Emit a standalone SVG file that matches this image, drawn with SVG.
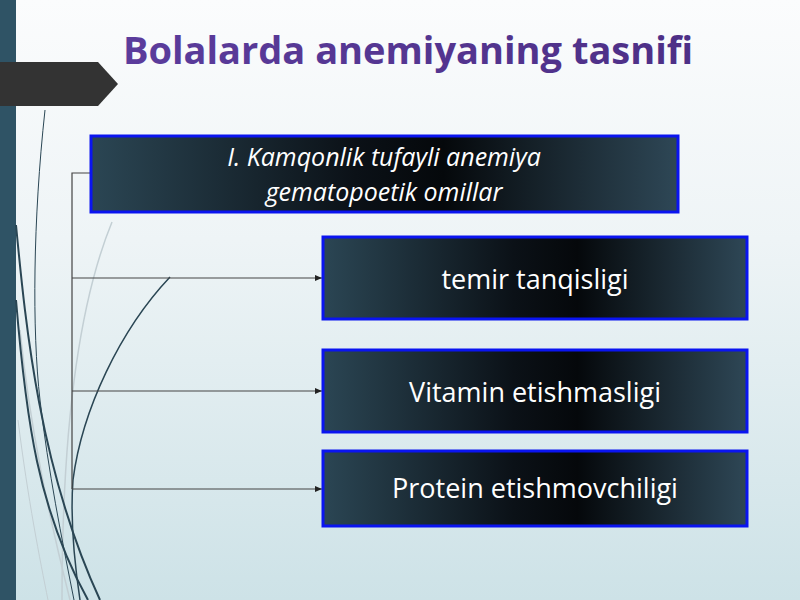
<svg xmlns="http://www.w3.org/2000/svg" width="800" height="600" viewBox="0 0 800 600">
<defs>
<linearGradient id="bg" x1="0" y1="0" x2="0" y2="1">
<stop offset="0" stop-color="#fbfcfd"/>
<stop offset="0.4" stop-color="#eef4f6"/>
<stop offset="1" stop-color="#cde2e7"/>
</linearGradient>
<linearGradient id="boxfill" x1="0" y1="0" x2="1" y2="0">
<stop offset="0" stop-color="#2b4654"/>
<stop offset="0.45" stop-color="#0b1117"/>
<stop offset="0.6" stop-color="#05080b"/>
<stop offset="1" stop-color="#2e4756"/>
</linearGradient>
<linearGradient id="title" x1="0" y1="0" x2="1" y2="0">
<stop offset="0" stop-color="#5b3c9c"/>
<stop offset="1" stop-color="#4d2f86"/>
</linearGradient>
<marker id="arr" markerWidth="8" markerHeight="8" refX="7" refY="4" orient="auto" markerUnits="userSpaceOnUse">
<path d="M0,1 L7,4 L0,7 Z" fill="#222"/>
</marker>
<style>
.box { fill: url(#boxfill); stroke: #0a14f0; stroke-width: 3; }
.lbl { font-family: "Open Sans", "Noto Sans", sans-serif; font-size: 27px; fill: #ffffff; text-anchor: middle; }
.ital { font-size: 25px; font-style: italic; }
.conn { stroke: #444; stroke-width: 1.2; fill: none; }
.deco { fill: none; stroke: #2a4654; }
.decol { fill: none; stroke: #c3cfd4; }
</style>
</defs>
<rect width="800" height="600" fill="url(#bg)"/>
<rect x="0" y="0" width="16" height="600" fill="#2f5365"/>
<g id="decoration">
<path class="decol" stroke-width="1.5" d="M112,222 C 80,300 62,420 62,600"/>
<path class="decol" stroke-width="1.5" d="M20,330 C 30,430 50,520 70,600"/>
<path class="decol" stroke-width="1" d="M18,420 C 28,500 40,560 48,600"/>
<path class="deco" stroke-width="1" d="M45,110 C 33,220 32,330 40,400 C 48,470 62,540 74,600"/>
<path class="deco" stroke-width="2" d="M16,225 C 26,330 40,470 100,600"/>
<path class="deco" stroke-width="2" d="M16,300 C 26,420 38,510 88,600"/>
<path class="deco" stroke-width="1.5" d="M170,277 C 120,330 82,410 73,480 C 70,520 74,560 80,600"/>
</g>
<path d="M0,62 L98,62 L118,84 L98,106 L0,106 Z" fill="#333333"/>
<text x="408" y="64" font-family="'Open Sans', 'Noto Sans', sans-serif" font-size="38" font-weight="bold" fill="url(#title)" text-anchor="middle">Bolalarda anemiyaning tasnifi</text>
<g id="connectors">
<path class="conn" d="M90,173 L72,173 L72,489"/>
<path class="conn" d="M72,278 L322,278" marker-end="url(#arr)"/>
<path class="conn" d="M72,391 L322,391" marker-end="url(#arr)"/>
<path class="conn" d="M72,489 L322,489" marker-end="url(#arr)"/>
</g>
<g id="node1">
<rect class="box" x="91" y="136" width="587" height="76"/>
<text class="lbl ital" x="384" y="166">I. Kamqonlik tufayli anemiya</text>
<text class="lbl ital" x="384" y="201">gematopoetik omillar</text>
</g>
<g id="node2">
<rect class="box" x="323" y="237" width="424" height="82"/>
<text class="lbl" x="535" y="289">temir tanqisligi</text>
</g>
<g id="node3">
<rect class="box" x="323" y="350" width="424" height="82"/>
<text class="lbl" x="535" y="402">Vitamin etishmasligi</text>
</g>
<g id="node4">
<rect class="box" x="323" y="451" width="424" height="75"/>
<text class="lbl" x="535" y="498">Protein etishmovchiligi</text>
</g>
</svg>
